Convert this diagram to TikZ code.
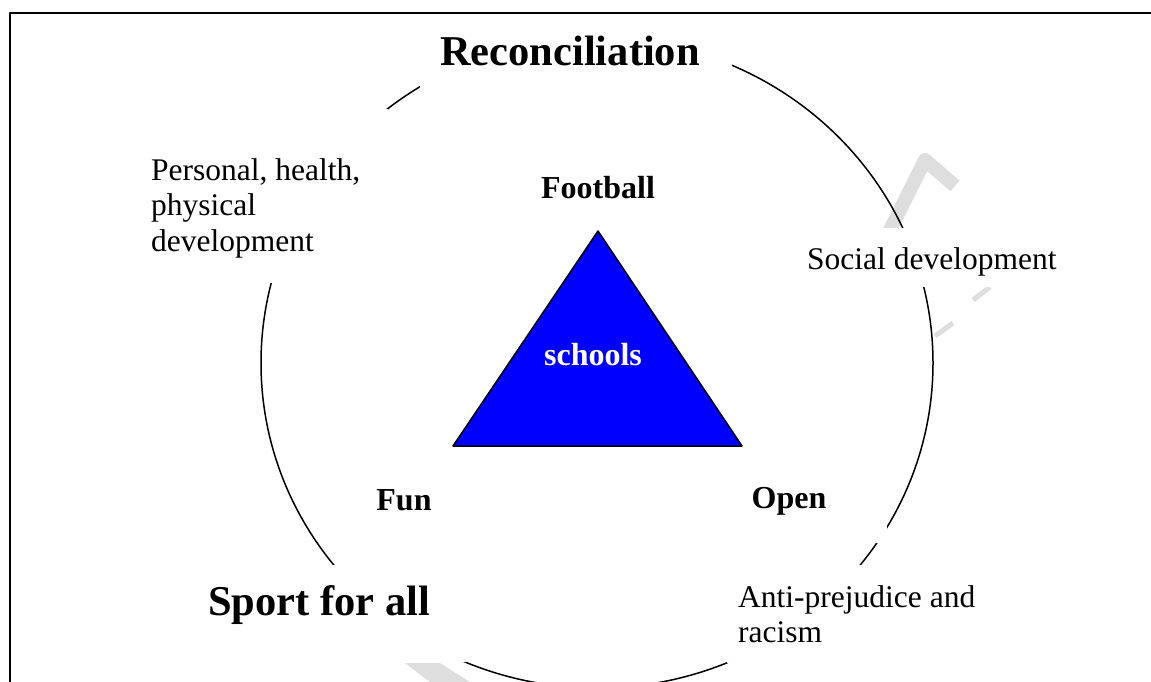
\documentclass[tikz,border=0pt]{standalone}
\usepackage{fontspec}
\setmainfont{Liberation Serif}
\usepackage{tikz}
\definecolor{TriBlue}{HTML}{0000FF}
\definecolor{MarkGray}{HTML}{DEDEDE}

\begin{document}
\begin{tikzpicture}[x=1pt,y=-1pt,line join=round]
  \useasboundingbox (0,0) rectangle (1151,682);
  % faint marks behind the labels
  \draw[MarkGray,line width=14pt] (889,232)--(925,160)--(955,186);
  \draw[MarkGray,line width=5pt] (935,336)--(953,323);
  \draw[MarkGray,line width=5pt] (973,300)--(990,287);
  \fill[MarkGray] (405,663)--(440,663)--(470,682)--(430,682)--cycle;
  % outer ring
  \draw[line width=1.5pt] (597,363) ellipse [x radius=336,y radius=325];
  % white label boxes that break the ring
  \fill[white] (420,16) rectangle (732,89);
  \fill[white] (140,109) rectangle (388,283);
  \fill[white] (795,228) rectangle (1080,287);
  \fill[white] (745,470) rectangle (887,543);
  \fill[white] (727,565) rectangle (1000,663);
  \fill[white] (190,565) rectangle (467,662);
  % triangle
  \coordinate (top) at (598,231);
  \coordinate (left) at (453,446);
  \coordinate (right) at (742,446);
  \draw[fill=TriBlue,line width=1.5pt] (top)--(left)--(right)--cycle;
  \node[text=white,font=\fontsize{32}{36}\selectfont\bfseries,anchor=base] (schools) at (593,365) {schools};
  \node[font=\fontsize{32}{36}\selectfont\bfseries,anchor=base] (football) at (598,198) {Football};
  \node[font=\fontsize{32}{36}\selectfont\bfseries,anchor=base] (fun) at (404,510) {Fun};
  \node[font=\fontsize{32}{36}\selectfont\bfseries,anchor=base] (open) at (789,508) {Open};
  % ring labels
  \node[font=\fontsize{42.5}{48}\selectfont\bfseries,anchor=base] (recon) at (570,66) {Reconciliation};
  \node[font=\fontsize{42.5}{48}\selectfont\bfseries,anchor=base] (sport) at (319,615) {Sport for all};
  \node[font=\fontsize{31.5}{35.5}\selectfont,align=left,anchor=base west,inner sep=0pt] (personal) at (151,251)
    {Personal, health,\\physical\\development};
  \node[font=\fontsize{31.5}{36}\selectfont,anchor=base west,inner sep=0pt] (social) at (807,269) {Social development};
  \node[font=\fontsize{31.5}{35}\selectfont,align=left,anchor=base west,inner sep=0pt] (anti) at (738,642)
    {Anti-prejudice and\\racism};
  % frame
  \draw[line width=2.5pt] (1151,13)--(10,13)--(10,682);
\end{tikzpicture}
\end{document}
